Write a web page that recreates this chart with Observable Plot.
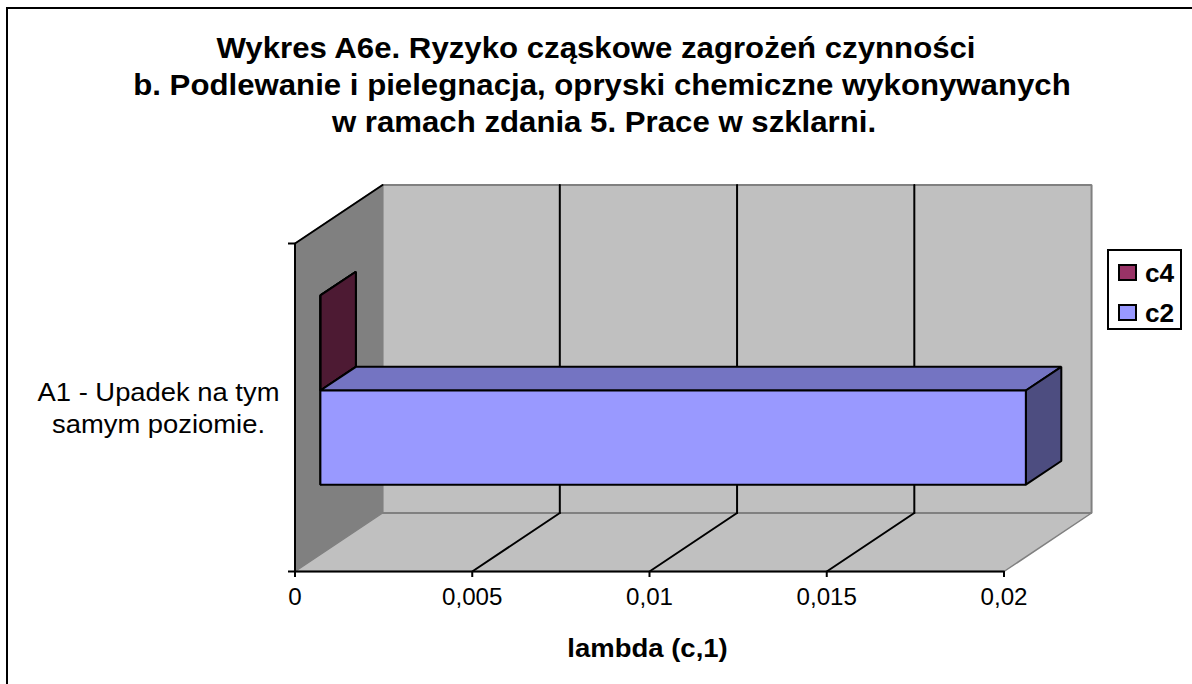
<!DOCTYPE html>
<html lang="pl">
<head>
<meta charset="utf-8">
<script src="https://cdn.jsdelivr.net/npm/d3@7"></script>
<script src="https://cdn.jsdelivr.net/npm/@observablehq/plot@0.6"></script>
<style>
  html, body { margin: 0; padding: 0; background: #fff; width: 1192px; height: 684px; overflow: hidden; }
  body { font-family: "Liberation Sans", Arial, sans-serif; color: #000; position: relative; }
  #frame { position: absolute; left: 6px; top: 7px; width: 1186px; height: 677px; border-left: 2px solid #000; border-top: 2px solid #000; box-sizing: border-box; pointer-events: none; }
  #title { position: absolute; left: 0; top: 0; width: 1192px; height: 170px; }
  #title div { position: absolute; left: 0; width: 1192px; text-align: center; font-weight: bold; font-size: 29.5px; line-height: 36px; white-space: nowrap; transform: scaleX(1.057); transform-origin: 50% 50%; }
  #chart { position: absolute; left: 0; top: 170px; }
  #legend { position: absolute; left: 1107px; top: 249px; width: 75px; height: 81px; border: 2px solid #000; box-sizing: border-box; background: #fff; }
  .sw { position: absolute; left: 9px; width: 19px; height: 17px; border: 2px solid #000; box-sizing: border-box; }
  .lb { position: absolute; left: 36px; font-weight: bold; font-size: 25px; line-height: 26px; transform: scaleX(1.05); transform-origin: 0 50%; }
</style>
</head>
<body>
<div id="title"></div>
<div id="chart"></div>
<div id="legend"></div>
<div id="frame"></div>
<script>
const titleLines = [
  "Wykres A6e. Ryzyko cząskowe zagrożeń czynności",
  "b. Podlewanie i pielegnacja, opryski chemiczne wykonywanych",
  "w ramach zdania 5. Prace w szklarni."
];
const categories = ["A1 - Upadek na tym\nsamym poziomie."];
const seriesNames = ["c4", "c2"];
const seriesValues = [0, 0.0199];
const seriesColors = ["#993366", "#9999FF"];
const xTicks = [0, 0.005, 0.01, 0.015, 0.02];
const yEnds = [0, 1];
const xLabel = "lambda (c,1)";

// oblique projection of the 3-D box: value v, height h (0-1), depth d (0-1)
const xMax = 0.02;
const DX = xMax * 87.5 / 708.5, DY = 58.5 / 328;
const P = (v, h, d) => ({x: v + d * DX, y: h + d * DY});
const D0 = 0.29, D1 = 0.695;
const H = [0.5, 0.79, 0.213]; // category centre, top of c4 bar, bottom of c2 bar

const face = (pts, fill, stroke = "#000", strokeWidth = 2) =>
  Plot.line(pts, {x: "x", y: "y", fill, stroke, strokeWidth, curve: "linear-closed", strokeLinejoin: "miter"});
const seg = (a, b, stroke = "#000", strokeWidth = 2) =>
  Plot.line([a, b], {x: "x", y: "y", stroke, strokeWidth});

function shade(c, k) { const r = d3.rgb(c); return d3.rgb(r.r * k, r.g * k, r.b * k).formatHex(); }

function bar(v, h0, h1, color) {
  return [
    face([P(0, h0, D1), P(0, h1, D1), P(0, h1, D0), P(0, h0, D0)], shade(color, 0.5)),
    face([P(0, h1, D0), P(v, h1, D0), P(v, h1, D1), P(0, h1, D1)], shade(color, 0.76)),
    face([P(v, h0, D0), P(v, h1, D0), P(v, h1, D1), P(v, h0, D1)], shade(color, 0.5)),
    face([P(0, h0, D0), P(v, h0, D0), P(v, h1, D0), P(0, h1, D0)], color)
  ];
}

const chart = Plot.plot({
  width: 1192,
  height: 514,
  marginLeft: 294.5,
  marginRight: 188.5,
  marginTop: 73,
  marginBottom: 113,
  style: {fontFamily: '"Liberation Sans", Arial, sans-serif', background: "transparent", color: "#000", overflow: "visible"},
  x: {domain: [0, xMax], label: null},
  y: {domain: [0, 1], axis: null},
  marks: [
    // side wall, floor, back wall
    face([P(0, 0, 0), P(0, 1, 0), P(0, 1, 1), P(0, 0, 1)], "#808080", "#808080", 1.5),
    face([P(0, 0, 0), P(xMax, 0, 0), P(xMax, 0, 1), P(0, 0, 1)], "#C0C0C0", "#808080", 1.5),
    face([P(0, 0, 1), P(xMax, 0, 1), P(xMax, 1, 1), P(0, 1, 1)], "#C0C0C0", "#808080", 2),
    // gridlines on floor and back wall
    ...xTicks.slice(1, -1).flatMap(v => [
      seg(P(v, 0, 0), P(v, 0, 1)),
      seg(P(v, 0, 1), P(v, 1, 1))
    ]),
    // axis edges
    seg(P(0, 0, 0), P(0, 1, 0)),
    seg(P(0, 1, 0), P(0, 1, 1)),
    seg(P(0, 0, 0), P(xMax, 0, 0)),
    Plot.ruleY(yEnds, {y: d => d, x1: () => -xMax * 6.5 / 708.5, x2: () => 0, stroke: "#000", strokeWidth: 2}),
    Plot.axisX({ticks: xTicks, tickSize: 6, tickPadding: 11, fontSize: 23, tickFormat: d => String(d).replace(".", ","), label: null, strokeWidth: 2}),
    // bars
    ...bar(seriesValues[0], H[0], H[1], seriesColors[0]),
    ...bar(seriesValues[1], H[2], H[0], seriesColors[1]),
    // labels
    Plot.text(categories, {x: () => 0, y: () => H[0], text: d => d, textAnchor: "middle", lineAnchor: "middle", dx: -136.5, dy: -1, fontSize: 25, lineHeight: 1.28, fill: "#000", className: "cat"}),
    Plot.text([xLabel], {x: () => xMax / 2, y: () => 0, text: d => d, dy: 77, dx: -2, fontSize: 25, fontWeight: "bold", fill: "#000", className: "xlab"})
  ]
});
document.getElementById("chart").appendChild(chart);

// the reference's text is stretched horizontally
function stretch(nodes, k) {
  nodes.forEach(n => {
    const len = n.getComputedTextLength();
    n.setAttribute("textLength", len * k);
    n.setAttribute("lengthAdjust", "spacingAndGlyphs");
  });
}
const sel = s => Array.from(chart.querySelectorAll(s));
stretch(sel("g[aria-label='x-axis tick label'] text"), 1.05);
stretch(sel(".cat text tspan"), 1.095);
stretch(sel(".xlab text"), 1.1);

const title = document.getElementById("title");
const titleShift = [0, 6, 8];
titleLines.forEach((t, i) => {
  const d = document.createElement("div");
  d.textContent = t;
  d.style.top = (30 + i * 37) + "px";
  d.style.left = titleShift[i] + "px";
  title.appendChild(d);
});

const legend = document.getElementById("legend");
seriesNames.forEach((name, i) => {
  const s = document.createElement("div");
  s.className = "sw";
  s.style.top = (13 + i * 39.5) + "px";
  s.style.background = seriesColors[i];
  legend.appendChild(s);
  const l = document.createElement("div");
  l.className = "lb";
  l.style.top = (9 + i * 40) + "px";
  l.textContent = name;
  legend.appendChild(l);
});
</script>
</body>
</html>
